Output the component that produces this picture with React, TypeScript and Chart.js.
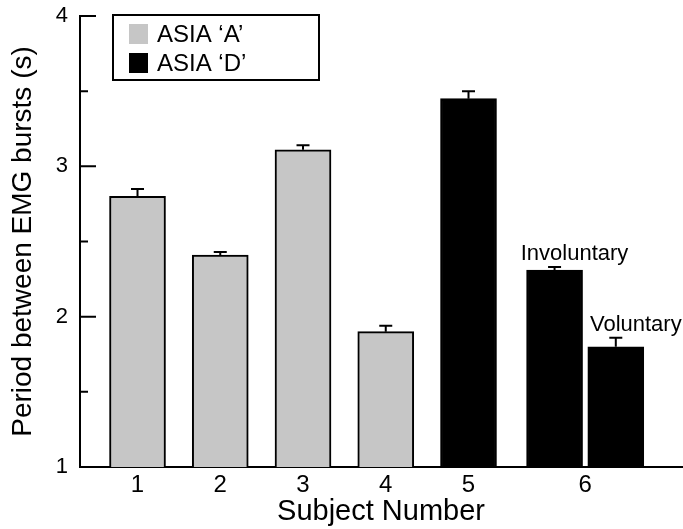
import React, { useEffect, useRef } from "react";
import { Chart, registerables } from "chart.js";

Chart.register(...registerables);

// ---- data ----
const asiaAPositions = [1, 2, 3, 4];
const asiaAValues = [2.8, 2.41, 3.11, 1.9];
const asiaAErrors = [0.05, 0.02, 0.03, 0.04];

const asiaDPositions = [5, 6.04, 6.78];
const asiaDValues = [3.45, 2.31, 1.8];
const asiaDErrors = [0.05, 0.02, 0.06];
const asiaDNotes = ["", "Involuntary", "Voluntary"];

const xTickPositions = [1, 2, 3, 4, 5, 6.41];
const xTickLabels = ["1", "2", "3", "4", "5", "6"];
const yMajorTicks = [1, 2, 3, 4];
const yMinorTicks = [1.5, 2.5, 3.5];

const legendLabels = ["ASIA \u2018A\u2019", "ASIA \u2018D\u2019"];
const GRAY = "rgb(198,198,198)";
const BLACK = "#000";
const FONT = "'Liberation Sans', Arial, sans-serif";

const errorBarPlugin = {
  id: "errorBars",
  afterDatasetsDraw(chart: any) {
    const ctx = chart.ctx;
    const y = chart.scales.y;
    chart.data.datasets.forEach((ds: any, di: number) => {
      const meta = chart.getDatasetMeta(di);
      const errs = ds.errors as number[];
      meta.data.forEach((bar: any, i: number) => {
        const v = ds.data[i].y;
        const top = y.getPixelForValue(v);
        const et = y.getPixelForValue(v + errs[i]);
        ctx.save();
        ctx.strokeStyle = BLACK;
        ctx.lineWidth = 2;
        ctx.beginPath();
        ctx.moveTo(bar.x, top);
        ctx.lineTo(bar.x, et);
        ctx.moveTo(bar.x - 6.5, et);
        ctx.lineTo(bar.x + 6.5, et);
        ctx.stroke();
        const notes = ds.notes as string[] | undefined;
        if (notes && notes[i]) {
          ctx.fillStyle = BLACK;
          ctx.font = `22px ${FONT}`;
          ctx.textAlign = "center";
          ctx.textBaseline = "alphabetic";
          ctx.fillText(notes[i], bar.x + 20, et - 7);
        }
        ctx.restore();
      });
    });
  },
};

const axisDecorPlugin = {
  id: "axisDecor",
  afterDraw(chart: any) {
    const ctx = chart.ctx;
    const y = chart.scales.y;
    const left = chart.chartArea.left;
    ctx.save();
    ctx.strokeStyle = BLACK;
    ctx.lineWidth = 2;
    ctx.beginPath();
    yMajorTicks.forEach((t) => {
      if (t === y.min) return;
      const py = y.getPixelForValue(t);
      ctx.moveTo(left, py);
      ctx.lineTo(left + 16, py);
    });
    yMinorTicks.forEach((t) => {
      const py = y.getPixelForValue(t);
      ctx.moveTo(left, py);
      ctx.lineTo(left + 8, py);
    });
    ctx.stroke();

    // legend box
    const bx = 113, by = 15, bw = 206, bh = 65;
    ctx.lineWidth = 2;
    ctx.strokeRect(bx, by, bw, bh);
    const colors = [GRAY, BLACK];
    legendLabels.forEach((lab, i) => {
      const cy = 34 + i * 29;
      ctx.fillStyle = colors[i];
      ctx.fillRect(129, cy - 10, 19, 20);
      ctx.fillStyle = BLACK;
      ctx.font = `24px ${FONT}`;
      ctx.textAlign = "left";
      ctx.textBaseline = "middle";
      ctx.fillText(lab, 157, cy + 1);
    });
    ctx.restore();
  },
};

export default function App() {
  const ref = useRef<HTMLCanvasElement | null>(null);
  useEffect(() => {
    document.body.style.margin = "0";
    if (!ref.current) return;
    const chart = new Chart(ref.current, {
      type: "bar",
      data: {
        datasets: [
          {
            label: legendLabels[0],
            data: asiaAPositions.map((x, i) => ({ x, y: asiaAValues[i] })),
            errors: asiaAErrors,
            backgroundColor: GRAY,
            borderColor: BLACK,
            borderWidth: 2,
            barThickness: 56,
            grouped: false,
          } as any,
          {
            label: legendLabels[1],
            data: asiaDPositions.map((x, i) => ({ x, y: asiaDValues[i] })),
            errors: asiaDErrors,
            notes: asiaDNotes,
            backgroundColor: BLACK,
            borderColor: BLACK,
            borderWidth: 2,
            barThickness: 56,
            grouped: false,
          } as any,
        ],
      },
      options: {
        animation: false,
        responsive: false,
        layout: { padding: { left: 0, top: 16, right: 1, bottom: 0 } },
        plugins: {
          legend: { display: false },
          tooltip: { enabled: false },
        },
        scales: {
          x: {
            type: "linear",
            offset: false,
            min: 0.305,
            max: 7.58,
            grid: { display: false, drawTicks: false, offset: false },
            border: { display: true, color: BLACK, width: 2 },
            afterBuildTicks: (s: any) => {
              s.ticks = xTickPositions.map((v) => ({ value: v }));
            },
            afterFit: (s: any) => {
              s.height = 62;
              s.paddingLeft = 0;
              s.paddingRight = 0;
            },
            ticks: {
              color: BLACK,
              font: { family: FONT, size: 24 },
              padding: 4,
              autoSkip: false,
              maxRotation: 0,
              callback: (_v: any, i: number) => xTickLabels[i],
            },
            title: {
              display: true,
              text: "Subject Number",
              color: BLACK,
              font: { family: FONT, size: 29 },
              padding: { top: 0, bottom: 0 },
            },
          },
          y: {
            type: "linear",
            min: 1,
            max: 4,
            grid: { display: false, drawTicks: false },
            border: { display: true, color: BLACK, width: 2 },
            afterFit: (s: any) => {
              s.width = 80;
              s.paddingTop = 0;
              s.paddingBottom = 0;
            },
            ticks: {
              stepSize: 1,
              color: BLACK,
              font: { family: FONT, size: 22 },
              padding: 12,
            },
            title: {
              display: true,
              text: "Period between EMG bursts (s)",
              color: BLACK,
              font: { family: FONT, size: 28 },
              padding: { top: 6, bottom: 0 },
            },
          },
        },
      } as any,
      plugins: [errorBarPlugin, axisDecorPlugin],
    });
    return () => chart.destroy();
  }, []);
  return (
    <div style={{ width: 683, height: 529 }}>
      <canvas ref={ref} width={683} height={529} style={{ display: "block" }} />
    </div>
  );
}
